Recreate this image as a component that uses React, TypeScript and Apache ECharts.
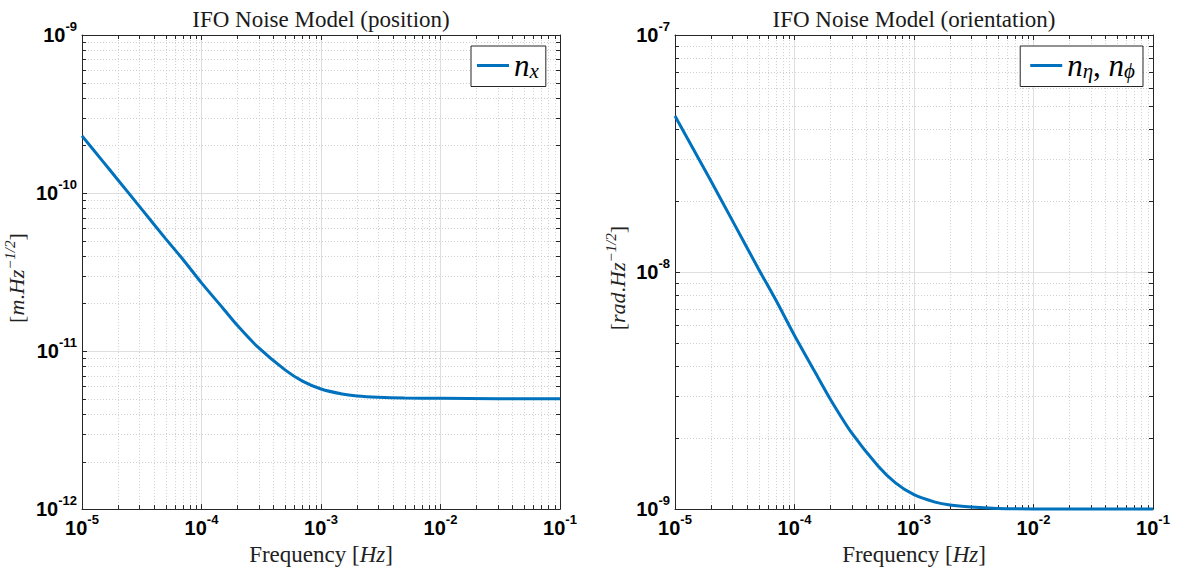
import React, { useEffect, useRef } from 'react';
import * as echarts from 'echarts';

// ---- data ----
const frequencies = [1e-5, 1.5e-5, 2e-5, 3e-5, 5e-5, 7e-5, 1e-4, 1.5e-4, 2e-4, 3e-4, 5e-4, 7e-4, 1e-3, 1.5e-3, 2e-3, 3e-3, 5e-3, 1e-2, 3e-2, 1e-1];
const positionNoise = [2.3e-10, 1.58e-10, 1.21e-10, 8.3e-11, 5.15e-11, 3.8e-11, 2.7e-11, 1.88e-11, 1.45e-11, 1.05e-11, 7.6e-12, 6.45e-12, 5.75e-12, 5.35e-12, 5.2e-12, 5.1e-12, 5.04e-12, 5.02e-12, 5.0e-12, 5.0e-12];
const orientationNoise = [4.55e-8, 3.15e-8, 2.42e-8, 1.66e-8, 1.03e-8, 7.6e-9, 5.4e-9, 3.75e-9, 2.9e-9, 2.1e-9, 1.52e-9, 1.29e-9, 1.15e-9, 1.07e-9, 1.04e-9, 1.02e-9, 1.007e-9, 1.002e-9, 1.0e-9, 1.0e-9];

const titles = ['IFO Noise Model (position)', 'IFO Noise Model (orientation)'];
const seriesNames = ['nx', 'neta'];
const xRange = [1e-5, 1e-1];
const posRange = [1e-12, 1e-9];
const oriRange = [1e-9, 1e-7];
const xDecades = [1e-5, 1e-4, 1e-3, 1e-2];
const posDecades = [1e-12, 1e-11, 1e-10];
const oriDecades = [1e-9, 1e-8];
const minorMultipliers = [2, 3, 4, 5, 6, 7, 8, 9];

const minorOf = (decades: number[]) => {
  const out: number[] = [];
  decades.forEach((d) => minorMultipliers.forEach((m) => out.push(d * m)));
  return out;
};

const AXIS = '#262626';
const BLUE = '#0072BD';
const SANS = '"Liberation Sans", Arial, Helvetica, sans-serif';
const SERIF = '"Liberation Serif", "Times New Roman", serif';

const tickRich = {
  b: { fontFamily: SANS, fontWeight: 'bold', fontSize: 20, color: '#000', lineHeight: 30, verticalAlign: 'middle' },
  s: { fontFamily: SANS, fontWeight: 'bold', fontSize: 13, color: '#000', lineHeight: 13, verticalAlign: 'top' },
};
const tickFormatter = (v: number) => {
  const e = Math.round(Math.log10(v));
  return `{b|10}{s|${e}}`;
};

const nameRich = {
  r: { fontFamily: SERIF, fontSize: 23, color: '#222', lineHeight: 28, verticalAlign: 'middle' },
  i: { fontFamily: SERIF, fontStyle: 'italic', fontSize: 23, color: '#222', lineHeight: 28, verticalAlign: 'middle' },
  s: { fontFamily: SERIF, fontStyle: 'italic', fontSize: 15, color: '#222', lineHeight: 15, verticalAlign: 'top' },
};
const yNameRich = {
  r: { fontFamily: SERIF, fontSize: 22, color: '#222', lineHeight: 28, verticalAlign: 'middle' },
  i: { fontFamily: SERIF, fontStyle: 'italic', fontSize: 22, color: '#222', lineHeight: 28, verticalAlign: 'middle' },
  s: { fontFamily: SERIF, fontStyle: 'italic', fontSize: 15, color: '#222', lineHeight: 15, verticalAlign: 'top' },
};

const legendRich = {
  i: { fontFamily: SERIF, fontStyle: 'italic', fontSize: 31, color: '#000', lineHeight: 32, verticalAlign: 'middle' },
  r: { fontFamily: SERIF, fontSize: 31, color: '#000', lineHeight: 32, verticalAlign: 'middle' },
  sub: { fontFamily: SERIF, fontStyle: 'italic', fontSize: 21, color: '#000', lineHeight: 17, verticalAlign: 'bottom' },
};

const snap = (v: number) => Math.round(v) + 0.5;

const xMinorRender = (yLo: number, yHi: number) => (params: any, api: any) => {
  const v = api.value(0);
  const b = api.coord([v, yLo]);
  const t = api.coord([v, yHi]);
  const x = snap(b[0]);
  return {
    type: 'group',
    children: [
      { type: 'line', shape: { x1: x, y1: b[1], x2: x, y2: t[1] }, style: { stroke: '#cfcfcf', lineWidth: 1, lineDash: [1, 2] } },
      { type: 'line', shape: { x1: x, y1: b[1], x2: x, y2: b[1] - 4 }, style: { stroke: AXIS, lineWidth: 1 } },
      { type: 'line', shape: { x1: x, y1: t[1], x2: x, y2: t[1] + 4 }, style: { stroke: AXIS, lineWidth: 1 } },
    ],
  };
};
const yMinorRender = (xLo: number, xHi: number) => (params: any, api: any) => {
  const v = api.value(1);
  const l = api.coord([xLo, v]);
  const r = api.coord([xHi, v]);
  const y = snap(l[1]);
  return {
    type: 'group',
    children: [
      { type: 'line', shape: { x1: l[0], y1: y, x2: r[0], y2: y }, style: { stroke: '#cfcfcf', lineWidth: 1, lineDash: [1, 2] } },
      { type: 'line', shape: { x1: l[0], y1: y, x2: l[0] + 4, y2: y }, style: { stroke: AXIS, lineWidth: 1 } },
      { type: 'line', shape: { x1: r[0], y1: y, x2: r[0] - 4, y2: y }, style: { stroke: AXIS, lineWidth: 1 } },
    ],
  };
};

const mainX = (grid: number) => ({
  type: 'log', logBase: 10, gridIndex: grid, min: xRange[0], max: xRange[1], position: 'bottom',
  name: '{r|Frequency }{r|[}{i|Hz}{r|]}', nameLocation: 'middle', nameGap: 31,
  nameTextStyle: { rich: nameRich },
  axisLine: { show: true, lineStyle: { color: AXIS, width: 1 } },
  axisTick: { show: true, inside: true, length: 5, lineStyle: { color: AXIS } },
  axisLabel: { formatter: tickFormatter, rich: tickRich, margin: 4, fontSize: 20, fontWeight: 'bold' },
  splitLine: { show: true, lineStyle: { color: '#dedede', width: 1 } },
  minorTick: { show: false }, minorSplitLine: { show: false },
});
const topX = (grid: number) => ({
  type: 'log', logBase: 10, gridIndex: grid, min: xRange[0], max: xRange[1], position: 'top',
  axisLine: { show: true, lineStyle: { color: AXIS, width: 1 } },
  axisTick: { show: true, inside: true, length: 5, lineStyle: { color: AXIS } },
  axisLabel: { show: false }, splitLine: { show: false },
});
const mainY = (grid: number, range: number[], name: string, gap: number) => ({
  type: 'log', logBase: 10, gridIndex: grid, min: range[0], max: range[1], position: 'left',
  name, nameLocation: 'middle', nameRotate: 90, nameGap: gap,
  nameTextStyle: { rich: yNameRich, padding: [0, 12, 0, 0] },
  axisLine: { show: true, lineStyle: { color: AXIS, width: 1 } },
  axisTick: { show: true, inside: true, length: 5, lineStyle: { color: AXIS } },
  axisLabel: { formatter: tickFormatter, rich: tickRich, margin: 5, fontSize: 20, fontWeight: 'bold' },
  splitLine: { show: true, lineStyle: { color: '#dedede', width: 1 } },
});
const rightY = (grid: number, range: number[]) => ({
  type: 'log', logBase: 10, gridIndex: grid, min: range[0], max: range[1], position: 'right',
  axisLine: { show: true, lineStyle: { color: AXIS, width: 1 } },
  axisTick: { show: true, inside: true, length: 5, lineStyle: { color: AXIS } },
  axisLabel: { show: false }, splitLine: { show: false },
});

export default function App() {
  const ref = useRef<HTMLDivElement>(null);
  useEffect(() => {
    if (!ref.current) return;
    const chart = echarts.init(ref.current, undefined, { renderer: 'svg' });
    const xMinor = minorOf(xDecades);
    const option: any = {
      animation: false,
      backgroundColor: '#ffffff',
      graphic: [
        { type: 'text', x: 321, y: 19, style: { text: titles[0], font: `23px ${SERIF}`, fill: '#1a1a1a', textAlign: 'center', textVerticalAlign: 'middle' } },
        { type: 'text', x: 914, y: 19, style: { text: titles[1], font: `23px ${SERIF}`, fill: '#1a1a1a', textAlign: 'center', textVerticalAlign: 'middle' } },
      ],
      grid: [
        { left: 82, top: 35, width: 478, height: 478, containLabel: false },
        { left: 675, top: 35, width: 478, height: 478, containLabel: false },
      ],
      legend: [
        {
          data: [seriesNames[0]], left: 471, top: 46, orient: 'vertical',
          backgroundColor: '#fff', borderColor: AXIS, borderWidth: 1, padding: [4, 7, 5, 6],
          itemWidth: 32, itemHeight: 3, icon: 'rect', selectedMode: false,
          formatter: () => '{i|n}{sub|x}',
          textStyle: { rich: legendRich },
        },
        {
          data: [seriesNames[1]], right: 34, top: 46, orient: 'vertical',
          backgroundColor: '#fff', borderColor: AXIS, borderWidth: 1, padding: [4, 8, 5, 10],
          itemWidth: 32, itemHeight: 3, icon: 'rect', selectedMode: false,
          formatter: () => '{i|n}{sub|η}{r|, }{i|n}{sub|ϕ}',
          textStyle: { rich: legendRich },
        },
      ],
      xAxis: [mainX(0), topX(0), mainX(1), topX(1)],
      yAxis: [
        mainY(0, posRange, '{r|[}{i|m}{r|.}{i|Hz}{s|−1/2}{r|]}', 52),
        rightY(0, posRange),
        mainY(1, oriRange, '{r|[}{i|rad}{r|.}{i|Hz}{s|−1/2}{r|]}', 44),
        rightY(1, oriRange),
      ],
      series: [
        {
          type: 'custom', xAxisIndex: 0, yAxisIndex: 0, silent: true, z: 1,
          data: xMinor.map((v) => [v, posRange[0]]), renderItem: xMinorRender(posRange[0], posRange[1]),
        },
        {
          type: 'custom', xAxisIndex: 0, yAxisIndex: 0, silent: true, z: 1,
          data: minorOf(posDecades).map((v) => [xRange[0], v]), renderItem: yMinorRender(xRange[0], xRange[1]),
        },
        {
          type: 'custom', xAxisIndex: 2, yAxisIndex: 2, silent: true, z: 1,
          data: xMinor.map((v) => [v, oriRange[0]]), renderItem: xMinorRender(oriRange[0], oriRange[1]),
        },
        {
          type: 'custom', xAxisIndex: 2, yAxisIndex: 2, silent: true, z: 1,
          data: minorOf(oriDecades).map((v) => [xRange[0], v]), renderItem: yMinorRender(xRange[0], xRange[1]),
        },
        {
          name: seriesNames[0], type: 'line', xAxisIndex: 0, yAxisIndex: 0, z: 5,
          data: frequencies.map((f, i) => [f, positionNoise[i]]),
          showSymbol: false, symbol: 'none', smooth: 0.25,
          lineStyle: { color: BLUE, width: 3 }, itemStyle: { color: BLUE },
        },
        {
          name: seriesNames[1], type: 'line', xAxisIndex: 2, yAxisIndex: 2, z: 5, clip: false,
          data: frequencies.map((f, i) => [f, orientationNoise[i]]),
          showSymbol: false, symbol: 'none', smooth: 0.25,
          lineStyle: { color: BLUE, width: 3 }, itemStyle: { color: BLUE },
        },
      ],
    };
    chart.setOption(option);
    return () => chart.dispose();
  }, []);
  return <div ref={ref} style={{ position: 'absolute', left: 0, top: 0, width: 1177, height: 571 }} />;
}
